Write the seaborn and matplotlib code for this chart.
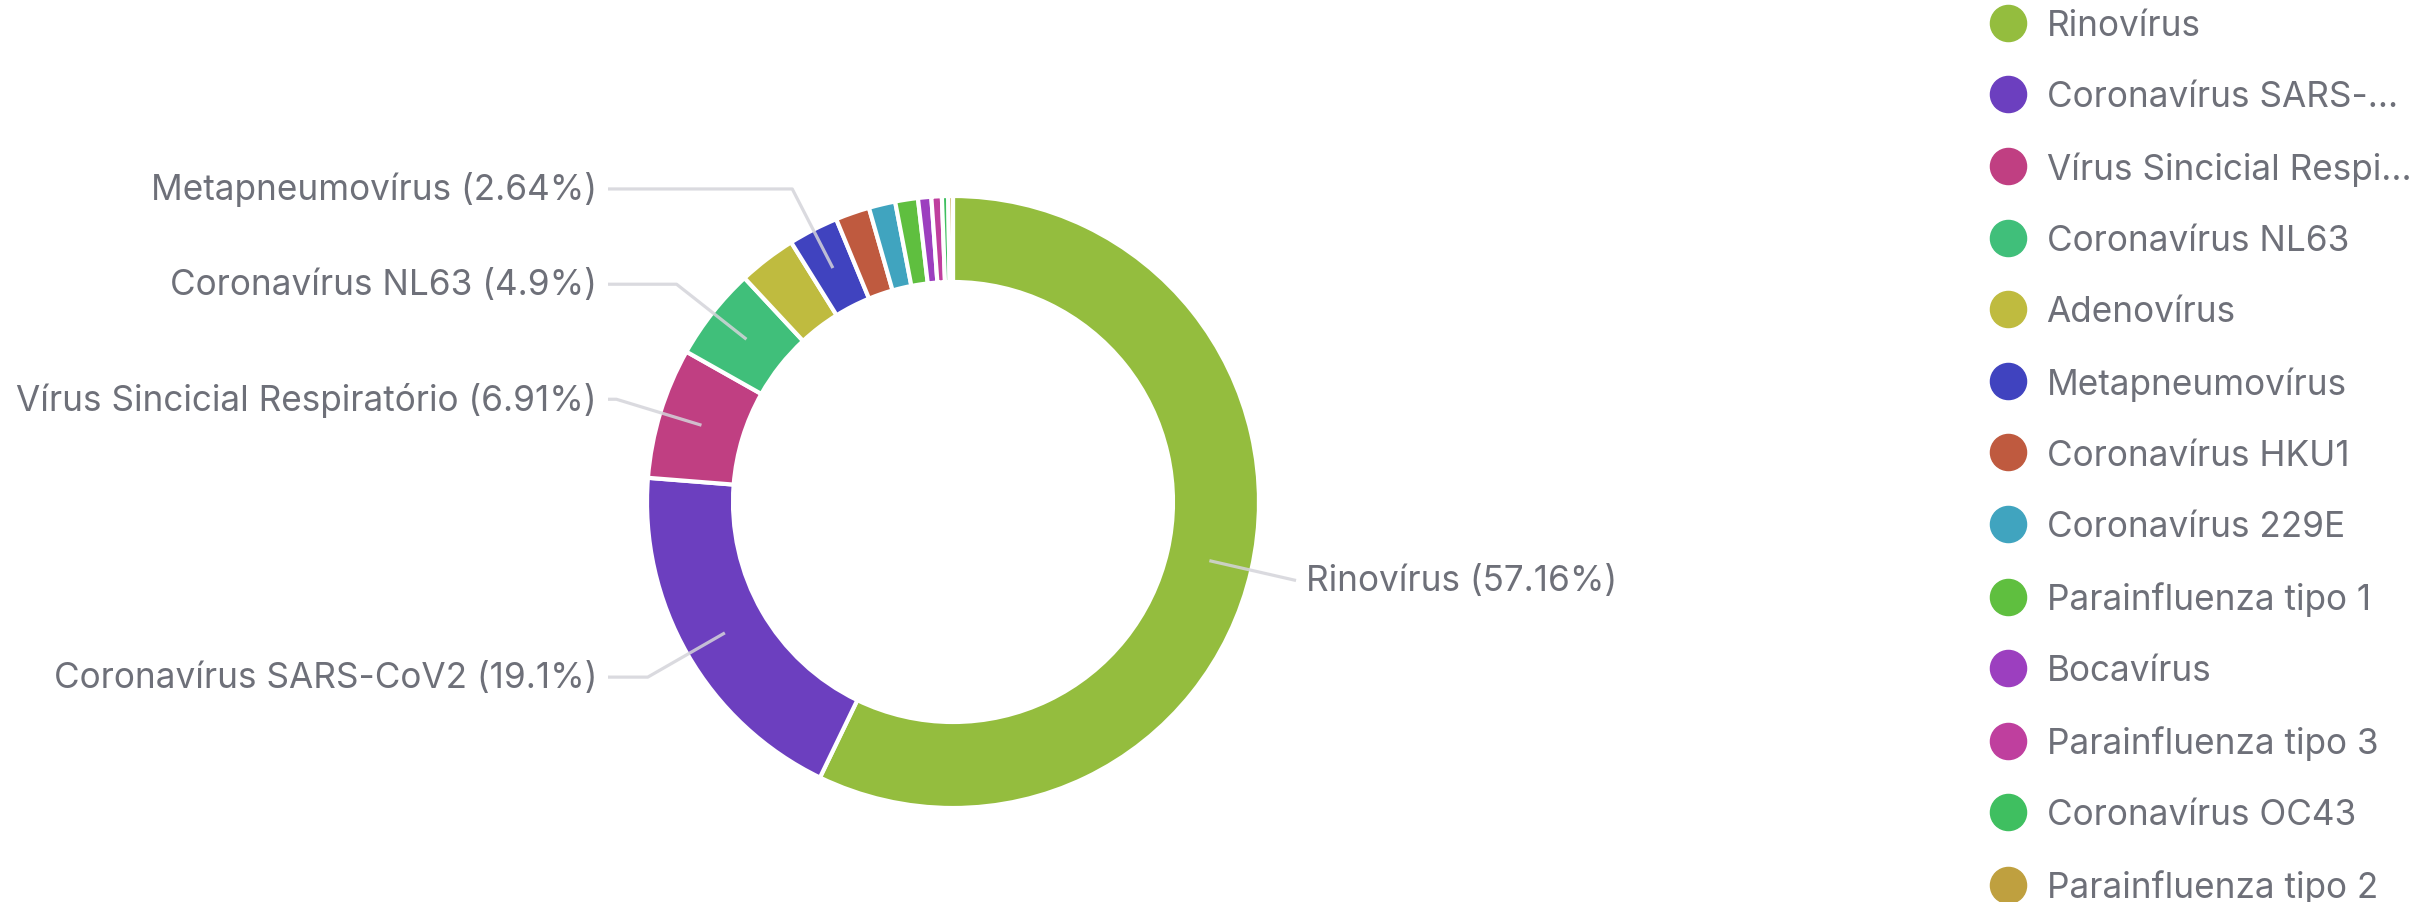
import numpy as np
import matplotlib
matplotlib.use("Agg")
import matplotlib.pyplot as plt
import seaborn as sns
from matplotlib.lines import Line2D

# ---------------- data ----------------
names = ["Rinovírus", "Coronavírus SARS-CoV2", "Vírus Sincicial Respiratório",
         "Coronavírus NL63", "Adenovírus", "Metapneumovírus", "Coronavírus HKU1",
         "Coronavírus 229E", "Parainfluenza tipo 1", "Bocavírus",
         "Parainfluenza tipo 3", "Coronavírus OC43", "Parainfluenza tipo 2"]
values = [57.16, 19.1, 6.91, 4.9, 3.06, 2.64, 1.8, 1.4, 1.2, 0.7, 0.55, 0.33, 0.25]
legend_labels = ["Rinovírus", "Coronavírus SARS-...", "Vírus Sincicial Respi...",
                 "Coronavírus NL63", "Adenovírus", "Metapneumovírus",
                 "Coronavírus HKU1", "Coronavírus 229E", "Parainfluenza tipo 1",
                 "Bocavírus", "Parainfluenza tipo 3", "Coronavírus OC43",
                 "Parainfluenza tipo 2"]
labeled = ["Rinovírus", "Coronavírus SARS-CoV2", "Vírus Sincicial Respiratório",
           "Coronavírus NL63", "Metapneumovírus"]
colors = ["#94bd3e", "#6c3fbf", "#c03f82", "#40bf7a", "#bfbb3f", "#4043bf",
          "#bf5a3f", "#40a4bf", "#5fbf3f", "#9c3fbf", "#bf3f9e", "#3fbf60",
          "#bfa03f"]

# ---------------- style ----------------
sns.set_theme(style="white")
plt.rcParams["font.family"] = ["Inter", "DejaVu Sans"]
TEXT = "#6e7079"
LINE = "#d4d4da"

W, H = 2424, 903
fig = plt.figure(figsize=(W / 100, H / 100), dpi=100)
ax = fig.add_axes([0, 0, 1, 1])

cx, cy = 953, 400
R, ring = 306, 86
ax.pie(values, colors=colors, startangle=90, counterclock=False, radius=R,
       center=(cx, cy),
       wedgeprops=dict(width=ring, edgecolor="white", linewidth=3))
ax.set_xlim(0, W)
ax.set_ylim(0, H)
ax.set_aspect("equal")
ax.axis("off")

# ---------------- labels with leader lines ----------------
total = sum(values)
cum = np.cumsum([0] + values[:-1])
left_col = 608
fs = 25.3
for name, v, c0 in zip(names, values, cum):
    if name not in labeled:
        continue
    ang = np.deg2rad(90 - 360 * (c0 + v / 2) / total)
    d = np.array([np.cos(ang), np.sin(ang)])
    p0 = np.array([cx, cy]) + (R - ring / 2) * d
    p1 = np.array([cx, cy]) + (R * 1.15) * d
    label = f"{name} ({v:g}%)"
    if d[0] < 0:
        p2 = np.array([left_col, p1[1]])
        ax.plot([p0[0], p1[0], p2[0]], [p0[1], p1[1], p2[1]], color=LINE,
                lw=2.3, alpha=0.85, solid_capstyle="butt", zorder=5)
        ax.text(p2[0] - 11, p2[1], label, ha="right", va="center",
                fontsize=fs, color=TEXT)
    else:
        ax.plot([p0[0], p1[0]], [p0[1], p1[1]], color=LINE, lw=2.3,
                alpha=0.85, solid_capstyle="butt", zorder=5)
        ax.text(p1[0] + 10, p1[1], label, ha="left", va="center",
                fontsize=fs, color=TEXT)

# ---------------- legend ----------------
handles = [Line2D([], [], marker="o", linestyle="", markersize=26,
                  markerfacecolor=c, markeredgecolor=c) for c in colors]
fig.legend(handles, legend_labels, loc="upper left",
           bbox_to_anchor=(1990 / W, 1 - 10 / H), frameon=False, fontsize=fs,
           handlelength=1.0, handletextpad=0.61, labelspacing=1.085,
           borderpad=0, borderaxespad=0, labelcolor=TEXT)

fig.savefig("out.png", dpi=100)
